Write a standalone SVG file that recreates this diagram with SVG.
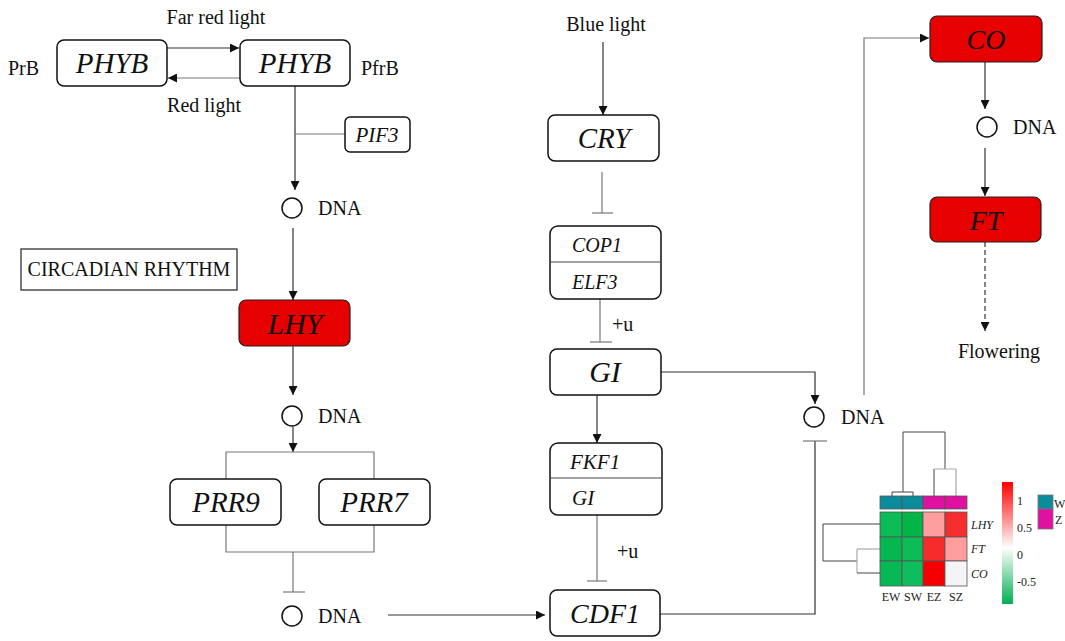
<svg xmlns="http://www.w3.org/2000/svg" width="1065" height="641" viewBox="0 0 1065 641">
<style>
.box{fill:#fff;stroke:#111;stroke-width:1.5}
.red{fill:#e60000;stroke:#222;stroke-width:1.2}
.gi{font-family:"Liberation Serif",serif;font-style:italic;fill:#111}
.t{font-family:"Liberation Serif",serif;fill:#111;font-size:20px}
.ln{fill:none;stroke:#333;stroke-width:1.2}
.gl{fill:none;stroke:#777;stroke-width:1.2}
.dna{fill:#fff;stroke:#111;stroke-width:1.5}
.hm{font-family:"Liberation Serif",serif;fill:#222;font-size:12px}
.dd{fill:none;stroke:#444;stroke-width:1}
.dg{fill:none;stroke:#aaa;stroke-width:1.2}
</style>
<defs>
<marker id="ah" viewBox="0 0 10 10" refX="10" refY="5" markerWidth="9" markerHeight="9" markerUnits="userSpaceOnUse" orient="auto">
<path d="M0,0 L10,5 L0,10 z" fill="#111"/>
</marker>
<linearGradient id="cs" x1="0" y1="0" x2="0" y2="1">
<stop offset="0" stop-color="#ff0000"/>
<stop offset="0.54" stop-color="#ffffff"/>
<stop offset="1" stop-color="#00b050"/>
</linearGradient>
</defs>
<rect width="1065" height="641" fill="#fff"/>

<g id="connectors">
<line class="ln" x1="167" y1="48" x2="239" y2="48" marker-end="url(#ah)"/>
<line class="gl" x1="240" y1="78" x2="168" y2="78" marker-end="url(#ah)"/>
<line class="ln" x1="295" y1="86" x2="295" y2="190" marker-end="url(#ah)"/>
<line class="gl" x1="295" y1="134" x2="345" y2="134"/>
<line class="ln" x1="293" y1="228" x2="293" y2="300" marker-end="url(#ah)"/>
<line class="ln" x1="293" y1="346" x2="293" y2="395" marker-end="url(#ah)"/>
<line class="ln" x1="293" y1="427" x2="293" y2="452" marker-end="url(#ah)"/>
<polyline class="gl" points="226,479 226,452 374,452 374,479"/>
<polyline class="gl" points="226,525 226,552 374,552 374,525"/>
<line class="gl" x1="293" y1="552" x2="293" y2="592"/>
<line class="gl" x1="283" y1="592" x2="305" y2="592"/>
<line class="ln" x1="388" y1="615" x2="545" y2="615" marker-end="url(#ah)"/>
<line class="ln" x1="603" y1="42" x2="603" y2="115" marker-end="url(#ah)"/>
<line class="gl" x1="602" y1="172" x2="602" y2="213"/>
<line class="gl" x1="592" y1="213" x2="613" y2="213"/>
<line class="gl" x1="600" y1="299" x2="600" y2="342"/>
<line class="gl" x1="590" y1="342" x2="612" y2="342"/>
<polyline class="ln" points="661,372 815,372 815,404" marker-end="url(#ah)"/>
<line class="ln" x1="597" y1="395" x2="597" y2="443" marker-end="url(#ah)"/>
<line class="gl" x1="597" y1="515" x2="597" y2="581"/>
<line class="gl" x1="587" y1="581" x2="607" y2="581"/>
<polyline class="ln" points="660,614 815,614 815,441"/>
<line class="gl" x1="803" y1="441" x2="827" y2="441"/>
<polyline class="gl" points="864,395 864,38 929,38" marker-end="url(#ah)"/>
<line class="ln" x1="985" y1="62" x2="985" y2="109" marker-end="url(#ah)"/>
<line class="ln" x1="985" y1="148" x2="985" y2="196" marker-end="url(#ah)"/>
<line class="ln" x1="985" y1="242" x2="985" y2="331" stroke-dasharray="5,3" marker-end="url(#ah)"/>
</g>

<g id="phyb-left"><rect class="box" x="57" y="40" width="110" height="46" rx="7"/><text class="gi" x="112" y="73" font-size="29" text-anchor="middle">PHYB</text></g>
<g id="phyb-right"><rect class="box" x="240" y="40" width="110" height="46" rx="7"/><text class="gi" x="295" y="73" font-size="29" text-anchor="middle">PHYB</text></g>
<g id="labels-top">
<text class="t" x="216" y="24" text-anchor="middle">Far red light</text>
<text class="t" x="8" y="75">PrB</text>
<text class="t" x="361" y="75">PfrB</text>
<text class="t" x="204" y="112" text-anchor="middle">Red light</text>
</g>
<g id="pif3"><rect class="box" x="345" y="117" width="65" height="35" rx="5"/><text class="gi" x="377" y="142" font-size="21" text-anchor="middle">PIF3</text></g>
<g id="dna1"><circle class="dna" cx="292" cy="208" r="10"/><text class="t" x="318" y="215">DNA</text></g>
<g id="circadian"><rect x="21" y="249" width="216" height="41" fill="#fff" stroke="#222" stroke-width="1.2"/><text class="t" x="129" y="276" font-size="19" text-anchor="middle">CIRCADIAN RHYTHM</text></g>
<g id="lhy"><rect class="red" x="239" y="300" width="111" height="46" rx="7"/><text class="gi" x="295" y="334" font-size="30" text-anchor="middle">LHY</text></g>
<g id="dna2"><circle class="dna" cx="292" cy="416" r="10"/><text class="t" x="318" y="423">DNA</text></g>
<g id="prr9"><rect class="box" x="170" y="479" width="111" height="46" rx="7"/><text class="gi" x="226" y="512" font-size="29" text-anchor="middle">PRR9</text></g>
<g id="prr7"><rect class="box" x="319" y="479" width="111" height="46" rx="7"/><text class="gi" x="374" y="512" font-size="29" text-anchor="middle">PRR7</text></g>
<g id="dna3"><circle class="dna" cx="292" cy="616" r="10"/><text class="t" x="318" y="623">DNA</text></g>

<g id="blue"><text class="t" x="606" y="31" text-anchor="middle">Blue light</text></g>
<g id="cry"><rect class="box" x="548" y="115" width="111" height="46" rx="7"/><text class="gi" x="604" y="148" font-size="29" text-anchor="middle">CRY</text></g>
<g id="cop1-elf3"><rect class="box" x="550" y="226" width="111" height="73" rx="8"/><line x1="550" y1="262" x2="661" y2="262" stroke="#444" stroke-width="1"/><text class="gi" x="572" y="252" font-size="20">COP1</text><text class="gi" x="572" y="289" font-size="20">ELF3</text></g>
<g id="u1"><text class="t" x="612" y="331">+u</text></g>
<g id="gi"><rect class="box" x="550" y="349" width="111" height="46" rx="7"/><text class="gi" x="605" y="382" font-size="30" text-anchor="middle">GI</text></g>
<g id="fkf1-gi"><rect class="box" x="550" y="443" width="112" height="72" rx="8"/><line x1="550" y1="478" x2="662" y2="478" stroke="#444" stroke-width="1"/><text class="gi" x="570" y="469" font-size="21">FKF1</text><text class="gi" x="572" y="505" font-size="21">GI</text></g>
<g id="u2"><text class="t" x="617" y="558">+u</text></g>
<g id="cdf1"><rect class="box" x="550" y="590" width="110" height="46" rx="7"/><text class="gi" x="605" y="623" font-size="28" text-anchor="middle">CDF1</text></g>
<g id="dna4"><circle class="dna" cx="814" cy="417" r="10"/><text class="t" x="841" y="424">DNA</text></g>

<g id="co"><rect class="red" x="930" y="16" width="112" height="46" rx="7"/><text class="gi" x="986" y="49" font-size="28" text-anchor="middle">CO</text></g>
<g id="dna5"><circle class="dna" cx="987" cy="127" r="10"/><text class="t" x="1013" y="134">DNA</text></g>
<g id="ft"><rect class="red" x="930" y="197" width="111" height="45" rx="7"/><text class="gi" x="986" y="230" font-size="28" text-anchor="middle">FT</text></g>
<g id="flowering"><text class="t" x="999" y="358" text-anchor="middle">Flowering</text></g>

<g id="heatmap">
<polyline class="dd" points="892,496 892,492 913,492 913,496"/>
<polyline class="dd" points="903,492 903,432 945,432 945,469"/>
<polyline class="dd" points="934,496 934,469"/>
<polyline class="dg" points="934,469 956,469 956,496"/>
<polyline class="dd" points="880,524 823,524 823,561 857,561"/>
<polyline class="dg" points="857,549 857,573"/>
<polyline class="dg" points="880,549 857,549"/>
<polyline class="dd" points="880,573 857,573"/>
<g stroke="#555" stroke-width="0.8">
<rect x="880" y="496" width="22" height="13" fill="#0a8c9c"/>
<rect x="902" y="496" width="21" height="13" fill="#0a8c9c"/>
<rect x="923" y="496" width="22" height="13" fill="#e010a0"/>
<rect x="945" y="496" width="22" height="13" fill="#e010a0"/>
<rect x="880" y="512" width="22" height="25" fill="#0abb56"/>
<rect x="902" y="512" width="21" height="25" fill="#03b546"/>
<rect x="923" y="512" width="22" height="25" fill="#ff9e9e"/>
<rect x="945" y="512" width="22" height="25" fill="#f52d2d"/>
<rect x="880" y="537" width="22" height="24" fill="#05b751"/>
<rect x="902" y="537" width="21" height="24" fill="#0cbb55"/>
<rect x="923" y="537" width="22" height="24" fill="#f62b2b"/>
<rect x="945" y="537" width="22" height="24" fill="#ff9d9d"/>
<rect x="880" y="561" width="22" height="25" fill="#07b954"/>
<rect x="902" y="561" width="21" height="25" fill="#0fbd5c"/>
<rect x="923" y="561" width="22" height="25" fill="#f50000"/>
<rect x="945" y="561" width="22" height="25" fill="#f4f4f4"/>
</g>
<text class="hm" x="971" y="529" font-style="italic">LHY</text>
<text class="hm" x="971" y="553" font-style="italic">FT</text>
<text class="hm" x="971" y="578" font-style="italic">CO</text>
<text class="hm" x="891" y="601" text-anchor="middle">EW</text>
<text class="hm" x="913" y="601" text-anchor="middle">SW</text>
<text class="hm" x="934" y="601" text-anchor="middle">EZ</text>
<text class="hm" x="956" y="601" text-anchor="middle">SZ</text>
<rect x="1002" y="482" width="11" height="122" fill="url(#cs)"/>
<text class="hm" x="1017" y="505">1</text>
<text class="hm" x="1017" y="532">0.5</text>
<text class="hm" x="1017" y="559">0</text>
<text class="hm" x="1017" y="586">-0.5</text>
<rect x="1038" y="495" width="15" height="14" fill="#0a8c9c" stroke="#777" stroke-width="0.8"/>
<rect x="1038" y="509" width="15" height="20" fill="#e010a0" stroke="#777" stroke-width="0.8"/>
<text class="hm" x="1054" y="508" font-size="10">W</text>
<text class="hm" x="1055" y="524" font-size="11">Z</text>
</g>
</svg>
